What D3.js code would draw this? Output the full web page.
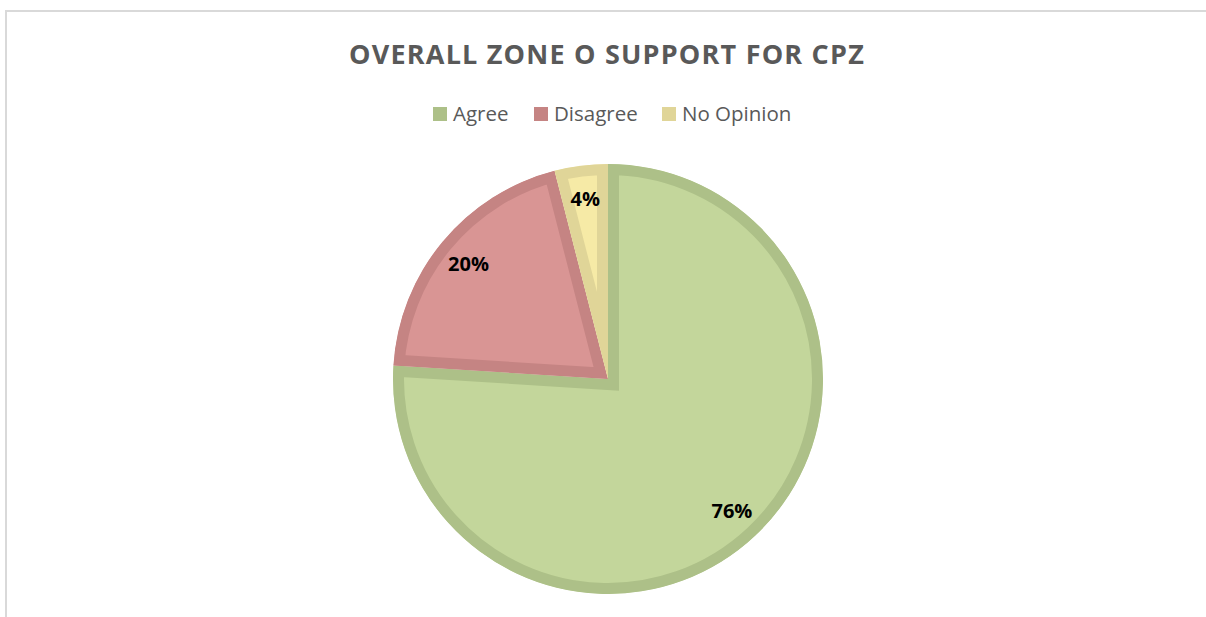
<!DOCTYPE html>
<html>
<head>
<meta charset="utf-8">
<script src="https://cdn.jsdelivr.net/npm/d3@7"></script>
<style>
  body { margin: 0; background: #fff; }
  text { font-family: "Open Sans", sans-serif; }
</style>
</head>
<body>
<svg width="1206" height="617"></svg>
<script>
const categories = ['Agree', 'Disagree', 'No Opinion'];
const values = [76, 20, 4];
const labels = ['76%', '20%', '4%'];
const fills = ['#c3d69b', '#d99594', '#f6eaa6'];
const borders = ['#adc088', '#c58483', '#e0d598'];

const svg = d3.select('svg');

// chart area frame
svg.append('rect')
    .attr('x', 6).attr('y', 11)
    .attr('width', 1300).attr('height', 700)
    .attr('fill', 'none')
    .attr('stroke', '#d9d9d9')
    .attr('stroke-width', 2);

svg.append('text')
    .attr('x', 607).attr('y', 64)
    .attr('text-anchor', 'middle')
    .attr('font-size', 27)
    .attr('font-weight', 'bold')
    .attr('letter-spacing', 1.2)
    .attr('fill', '#595959')
    .text('OVERALL ZONE O SUPPORT FOR CPZ');

// legend
const legendX = [433, 534, 662];
const legend = svg.append('g');
categories.forEach(function (c, i) {
    legend.append('rect')
        .attr('x', legendX[i]).attr('y', 107)
        .attr('width', 14).attr('height', 14)
        .attr('fill', borders[i]);
    legend.append('text')
        .attr('x', legendX[i] + 20).attr('y', 121)
        .attr('font-size', 20.5)
        .attr('fill', '#595959')
        .text(c);
});

const cx = 608, cy = 379, R = 215;
const data = categories.map(function (c, i) {
    return { cat: c, value: values[i], label: labels[i], i: i };
});

let pieGenerator = d3.pie()
    .value(function (d) { return d.value; })
    .sort(null);
let arcData = pieGenerator(data);

let arcGenerator = d3.arc()
    .innerRadius(0)
    .outerRadius(R);

let labelArc = d3.arc()
    .innerRadius(181)
    .outerRadius(181);

const g = svg.append('g').attr('transform', 'translate(' + cx + ',' + cy + ')');
const defs = svg.append('defs');

arcData.forEach(function (d, i) {
    defs.append('clipPath')
        .attr('id', 'clip' + i)
        .append('path')
        .attr('d', arcGenerator(d));
});

g.selectAll('path.slice')
    .data(arcData)
    .enter()
    .append('path')
    .attr('class', 'slice')
    .attr('d', arcGenerator)
    .attr('clip-path', function (d, i) { return 'url(#clip' + i + ')'; })
    .attr('fill', function (d, i) { return fills[i]; })
    .attr('stroke', function (d, i) { return borders[i]; })
    .attr('stroke-width', 22)
    .attr('stroke-linejoin', 'miter');

g.selectAll('text')
    .data(arcData)
    .enter()
    .append('text')
    .each(function (d) {
        let c = labelArc.centroid(d);
        d3.select(this)
            .attr('x', c[0])
            .attr('y', c[1])
            .attr('dy', '0.35em')
            .attr('text-anchor', 'middle')
            .attr('font-size', 20)
            .attr('font-weight', 'bold')
            .attr('fill', '#000')
            .text(d.data.label);
    });
</script>
</body>
</html>
